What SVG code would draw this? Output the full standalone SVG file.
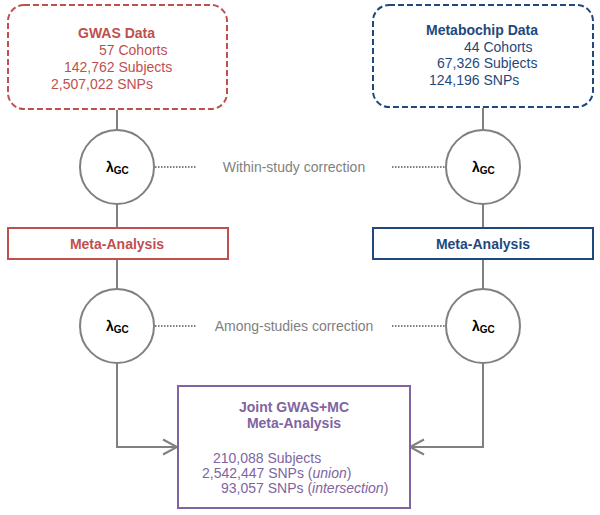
<svg xmlns="http://www.w3.org/2000/svg" width="600" height="515" viewBox="0 0 600 515">
<defs>
<style>
.t{font-family:"Liberation Sans",Arial,sans-serif;font-size:14px}
.b{font-weight:bold}
.red{fill:#C0504D}
.blue{fill:#1F497D}
.pur{fill:#8064A2}
.gray{fill:#7F7F7F}
.conn{stroke:#808080;stroke-width:2;fill:none}
.dot{stroke:#808080;stroke-width:2;stroke-dasharray:1.5,1.5;fill:none}
.circ{stroke:#808080;stroke-width:2;fill:#fff}
.lam{font-family:"Liberation Sans",Arial,sans-serif;font-weight:bold;fill:#000;font-size:14px}
.sub{font-size:10px}
</style>
<marker id="arr" markerUnits="userSpaceOnUse" markerWidth="20" markerHeight="20" viewBox="-16 -10 20 20" refX="0" refY="0" orient="auto">
<path d="M-14,-7.5 L0,0 L-14,7.5" stroke="#808080" stroke-width="2" fill="none"/>
</marker>
</defs>
<rect width="600" height="515" fill="#fff"/>
<g id="connectors">
<line class="conn" x1="117" y1="110" x2="117" y2="130"/>
<line class="conn" x1="117" y1="204" x2="117" y2="228"/>
<line class="conn" x1="117" y1="259" x2="117" y2="289"/>
<path class="conn" d="M117,363 V447 H177" marker-end="url(#arr)"/>
<line class="conn" x1="483" y1="108" x2="483" y2="130"/>
<line class="conn" x1="483" y1="204" x2="483" y2="228"/>
<line class="conn" x1="483" y1="259" x2="483" y2="289"/>
<path class="conn" d="M483,363 V447 H410" marker-end="url(#arr)"/>
<line class="dot" x1="155" y1="167" x2="197" y2="167"/>
<line class="dot" x1="392" y1="167" x2="446" y2="167"/>
<line class="dot" x1="155" y1="326" x2="197" y2="326"/>
<line class="dot" x1="392" y1="326" x2="446" y2="326"/>
</g>
<g id="gwas">
<rect x="8" y="5" width="219" height="104" rx="16" ry="16" fill="#fff" stroke="#C0504D" stroke-width="2" stroke-dasharray="6,3"/>
<text class="t b red" x="78" y="38">GWAS Data</text>
<text class="t red" x="99" y="55">57 Cohorts</text>
<text class="t red" x="64" y="72">142,762 Subjects</text>
<text class="t red" x="51" y="89">2,507,022 SNPs</text>
</g>
<g id="metabochip">
<rect x="373" y="5" width="220" height="102" rx="16" ry="16" fill="#fff" stroke="#1F497D" stroke-width="2" stroke-dasharray="6,3"/>
<text class="t b blue" x="426" y="35">Metabochip Data</text>
<text class="t blue" x="464" y="52">44 Cohorts</text>
<text class="t blue" x="437" y="68">67,326 Subjects</text>
<text class="t blue" x="429" y="85">124,196 SNPs</text>
</g>
<g id="lambda1">
<circle class="circ" cx="117" cy="167" r="37"/>
<text class="lam" x="106" y="172">λ<tspan class="sub" dy="2">GC</tspan></text>
</g>
<g id="lambda2">
<circle class="circ" cx="483" cy="167" r="37"/>
<text class="lam" x="472" y="172">λ<tspan class="sub" dy="2">GC</tspan></text>
</g>
<g id="within">
<text class="t gray" x="294" y="172" text-anchor="middle">Within-study correction</text>
</g>
<g id="meta1">
<rect x="8" y="228" width="220" height="31" fill="#fff" stroke="#C0504D" stroke-width="2"/>
<text class="t b red" x="117" y="249" text-anchor="middle">Meta-Analysis</text>
</g>
<g id="meta2">
<rect x="373" y="228" width="220" height="31" fill="#fff" stroke="#1F497D" stroke-width="2"/>
<text class="t b blue" x="483" y="249" text-anchor="middle">Meta-Analysis</text>
</g>
<g id="lambda3">
<circle class="circ" cx="117" cy="326" r="37"/>
<text class="lam" x="106" y="331">λ<tspan class="sub" dy="2">GC</tspan></text>
</g>
<g id="lambda4">
<circle class="circ" cx="483" cy="326" r="37"/>
<text class="lam" x="472" y="331">λ<tspan class="sub" dy="2">GC</tspan></text>
</g>
<g id="among">
<text class="t gray" x="294" y="331" text-anchor="middle">Among-studies correction</text>
</g>
<g id="joint">
<rect x="178" y="386" width="232" height="122" fill="#fff" stroke="#8064A2" stroke-width="2"/>
<text class="t b pur" x="294" y="412" text-anchor="middle">Joint GWAS+MC</text>
<text class="t b pur" x="294" y="428" text-anchor="middle">Meta-Analysis</text>
<text class="t pur" x="213" y="463">210,088 Subjects</text>
<text class="t pur" x="202" y="478">2,542,447 SNPs (<tspan font-style="italic">union</tspan>)</text>
<text class="t pur" x="221" y="493">93,057 SNPs (<tspan font-style="italic">intersection</tspan>)</text>
</g>
</svg>
